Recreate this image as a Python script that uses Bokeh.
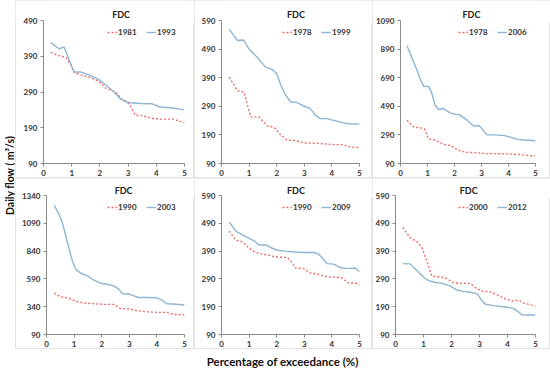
from bokeh.plotting import figure
from bokeh.layouts import row, column
from bokeh.models import FixedTicker, Range1d
from bokeh.core.properties import value
from bokeh.embed import file_html
from bokeh.resources import INLINE
import math

# ---------------- data ----------------
x_ticks = [0, 1, 2, 3, 4, 5]

p1_yticks = [90, 190, 290, 390, 490]
p1_x_1981 = [0.26, 0.55, 0.79, 0.96, 1.1, 1.32, 1.67, 1.96, 2.2, 2.44, 2.6, 2.75, 2.96, 3.06, 3.26, 3.55, 3.85, 4.14, 4.6, 5.0]
p1_y_1981 = [401, 392, 387, 368, 344, 338, 330, 320, 301, 294, 287, 271, 263, 254, 225, 223, 216, 214, 214, 204]
p1_x_1993 = [0.26, 0.55, 0.73, 0.9, 1.08, 1.32, 1.61, 2.0, 2.26, 2.5, 2.7, 2.9, 3.08, 3.44, 3.85, 4.14, 4.5, 5.0]
p1_y_1993 = [428, 411, 416, 382, 346, 346, 338, 323, 306, 290, 273, 263, 260, 258, 257, 248, 246, 240]

p2_yticks = [90, 190, 290, 390, 490, 590]
p2_x_1978 = [0.28, 0.58, 0.82, 0.94, 1.06, 1.36, 1.66, 1.9, 2.14, 2.38, 2.68, 2.98, 3.34, 3.7, 4.06, 4.36, 4.66, 5.0]
p2_y_1978 = [392, 344, 339, 294, 253, 253, 221, 217, 190, 172, 170, 162, 161, 159, 156, 156, 148, 145]
p2_x_1999 = [0.28, 0.58, 0.79, 1.0, 1.3, 1.6, 1.84, 2.0, 2.14, 2.32, 2.5, 2.74, 2.98, 3.22, 3.4, 3.58, 3.82, 4.06, 4.42, 4.6, 5.0]
p2_y_1999 = [559, 520, 522, 490, 461, 427, 419, 404, 366, 330, 306, 303, 291, 282, 259, 247, 247, 241, 232, 229, 228]

p3_yticks = [90, 290, 490, 690, 890, 1090]
p3_x_1978 = [0.24, 0.5, 0.74, 0.89, 1.04, 1.28, 1.58, 1.88, 2.12, 2.42, 2.78, 3.14, 3.5, 3.98, 4.34, 4.64, 5.0]
p3_y_1978 = [392, 344, 339, 332, 261, 254, 225, 214, 183, 168, 166, 159, 159, 157, 154, 147, 142]
p3_x_2006 = [0.24, 0.5, 0.74, 0.86, 1.04, 1.16, 1.28, 1.4, 1.58, 1.82, 2.0, 2.18, 2.42, 2.72, 2.9, 3.02, 3.2, 3.5, 3.86, 4.1, 4.34, 4.58, 5.0]
p3_y_2006 = [914, 795, 677, 629, 629, 582, 499, 468, 475, 446, 434, 432, 399, 351, 356, 332, 290, 290, 285, 273, 259, 254, 249]

p4_yticks = [90, 340, 590, 840, 1090, 1340]
p4_x_1990 = [0.28, 0.52, 0.82, 1.06, 1.36, 1.72, 2.08, 2.44, 2.68, 2.98, 3.28, 3.64, 4.0, 4.36, 4.6, 5.0]
p4_y_1990 = [462, 429, 417, 388, 373, 367, 361, 361, 325, 319, 304, 295, 289, 289, 271, 266]
p4_x_2003 = [0.28, 0.46, 0.58, 0.7, 0.82, 0.94, 1.06, 1.24, 1.48, 1.72, 1.96, 2.2, 2.44, 2.62, 2.74, 2.86, 2.98, 3.16, 3.34, 3.64, 4.0, 4.18, 4.36, 4.6, 5.0]
p4_y_2003 = [1251, 1167, 1093, 974, 855, 751, 676, 641, 617, 578, 551, 542, 527, 498, 459, 453, 456, 438, 423, 423, 420, 400, 367, 364, 355]

p5_yticks = [90, 190, 290, 390, 490, 590]
p5_x_1990 = [0.28, 0.52, 0.76, 0.94, 1.12, 1.36, 1.66, 1.96, 2.38, 2.56, 2.68, 2.98, 3.22, 3.46, 3.82, 4.18, 4.36, 4.6, 4.84, 5.0]
p5_y_1990 = [462, 429, 423, 406, 391, 381, 376, 369, 367, 349, 329, 327, 311, 308, 298, 296, 294, 275, 275, 268]
p5_x_2009 = [0.28, 0.52, 0.76, 1.0, 1.18, 1.36, 1.6, 1.78, 2.02, 2.32, 2.68, 2.98, 3.34, 3.52, 3.7, 3.82, 4.06, 4.3, 4.54, 4.84, 5.0]
p5_y_2009 = [495, 462, 448, 436, 427, 412, 412, 403, 393, 390, 387, 385, 385, 379, 361, 345, 343, 331, 327, 329, 316]

p6_yticks = [90, 190, 290, 390, 490, 590]
p6_x_2000 = [0.26, 0.52, 0.76, 0.94, 1.12, 1.3, 1.54, 1.78, 2.08, 2.38, 2.67, 2.86, 3.1, 3.39, 3.63, 3.87, 4.16, 4.4, 4.58, 4.82, 5.0]
p6_y_2000 = [475, 438, 424, 404, 353, 300, 297, 294, 276, 274, 274, 258, 246, 243, 233, 220, 211, 213, 203, 197, 191]
p6_x_2012 = [0.26, 0.52, 0.76, 1.0, 1.18, 1.42, 1.66, 1.96, 2.2, 2.43, 2.67, 2.91, 3.05, 3.21, 3.5, 3.87, 4.22, 4.34, 4.52, 4.76, 5.0]
p6_y_2012 = [345, 344, 320, 297, 284, 278, 274, 264, 250, 245, 242, 237, 217, 199, 194, 190, 184, 175, 161, 160, 160]

panel_title = "FDC"

# ---------------- style ----------------
RED = "#F06A6A"
BLUE = "#8DB5D5"
AXIS = "#8a8a8a"
FONT = "Lato"
OVERLAP = 8


def text_fig(w, h, txt, x, y, angle, size, color="#111111"):
    f = figure(width=w, height=h, output_backend="svg", toolbar_location=None,
               x_range=Range1d(0, 1), y_range=Range1d(0, 1),
               min_border=0, min_border_left=0, min_border_right=0,
               min_border_top=0, min_border_bottom=0)
    f.axis.visible = False
    f.grid.visible = False
    f.outline_line_color = None
    f.text(x=[x], y=[y], text=[txt], angle=angle, text_align="center",
           text_baseline="middle", text_font=value(FONT), text_font_size=size,
           text_font_style="bold", text_color=color)
    return f


def make_panel(w, h, left, right, title_h, title_y, yticks, red, blue):
    p = figure(width=w, height=h - title_h + OVERLAP, output_backend="svg",
               toolbar_location=None,
               x_range=Range1d(0, 5), y_range=Range1d(yticks[0], yticks[-1]),
               min_border_left=left, min_border_right=right,
               min_border_top=5, min_border_bottom=13)
    p.border_fill_color = None
    p.outline_line_color = None
    p.grid.visible = False
    for ax in (p.xaxis[0], p.yaxis[0]):
        ax.axis_line_color = AXIS
        ax.major_tick_line_color = AXIS
        ax.major_tick_in = 0
        ax.major_tick_out = 3
        ax.minor_tick_line_color = None
        ax.major_label_text_font = FONT
        ax.major_label_text_font_size = "8px"
        ax.major_label_text_font_style = "bold"
        ax.major_label_text_color = "#333333"
        ax.major_label_standoff = 3
    p.xaxis.ticker = FixedTicker(ticks=x_ticks)
    p.yaxis.ticker = FixedTicker(ticks=yticks)

    (rx, ry, rl), (bx, by, bl) = red, blue
    p.line(rx, ry, color=RED, line_width=1.4, line_dash="2 2", legend_label=rl)
    p.line(bx, by, color=BLUE, line_width=1.4, legend_label=bl)

    lg = p.legend[0]
    lg.location = "top_right"
    lg.orientation = "horizontal"
    lg.label_text_font = FONT
    lg.label_text_font_size = "8px"
    lg.label_text_font_style = "bold"
    lg.label_text_color = "#333333"
    lg.glyph_width = 10
    lg.glyph_height = 6
    lg.label_standoff = 1
    lg.spacing = 8
    lg.padding = 0
    lg.margin = 7
    lg.label_height = 6
    lg.border_line_alpha = 0
    lg.background_fill_alpha = 0

    cx = (left + (w - left - right) / 2) / w
    t = text_fig(w, title_h, panel_title, cx, title_y, 0, "9px", "#222222")
    t.margin = (0, 0, -OVERLAP, 0)
    c = column(t, p)
    c.styles = {"outline": "1px solid #e4e4e4", "outline-offset": "-1px"}
    return c


TOP_H = 178
BOT_H = 171
TT_H, TT_Y = 23, 0.39     # top-row title strip (title centre 14 px from top)
BT_H, BT_Y = 20, 0.40     # bottom-row title strip (title centre 12 px from top)

p1 = make_panel(179, TOP_H, 28, 10, TT_H, TT_Y, p1_yticks,
                (p1_x_1981, p1_y_1981, "1981"), (p1_x_1993, p1_y_1993, "1993"))
p2 = make_panel(178, TOP_H, 27, 13, TT_H, TT_Y, p2_yticks,
                (p2_x_1978, p2_y_1978, "1978"), (p2_x_1999, p2_y_1999, "1999"))
p3 = make_panel(178, TOP_H, 24, 15, TT_H, TT_Y, p3_yticks,
                (p3_x_1978, p3_y_1978, "1978"), (p3_x_2006, p3_y_2006, "2006"))
p4 = make_panel(179, BOT_H, 31, 10, BT_H, BT_Y, p4_yticks,
                (p4_x_1990, p4_y_1990, "1990"), (p4_x_2003, p4_y_2003, "2003"))
p5 = make_panel(178, BOT_H, 27, 13, BT_H, BT_Y, p5_yticks,
                (p5_x_1990, p5_y_1990, "1990"), (p5_x_2009, p5_y_2009, "2009"))
p6 = make_panel(178, BOT_H, 23, 15, BT_H, BT_Y, p6_yticks,
                (p6_x_2000, p6_y_2000, "2000"), (p6_x_2012, p6_y_2012, "2012"))

ylab = text_fig(15, TOP_H + BOT_H, "Daily flow ( m\u00b3/s)", 0.6, 0.499, math.pi / 2, "10.5px")
xlab = text_fig(550, 26, "Percentage of exceedance (%)", 0.513, 0.52, 0, "11.5px")

grid = column(row(p1, p2, p3), row(p4, p5, p6))
layout = column(row(ylab, grid), xlab)

open("out.html", "w").write(file_html(layout, INLINE))
